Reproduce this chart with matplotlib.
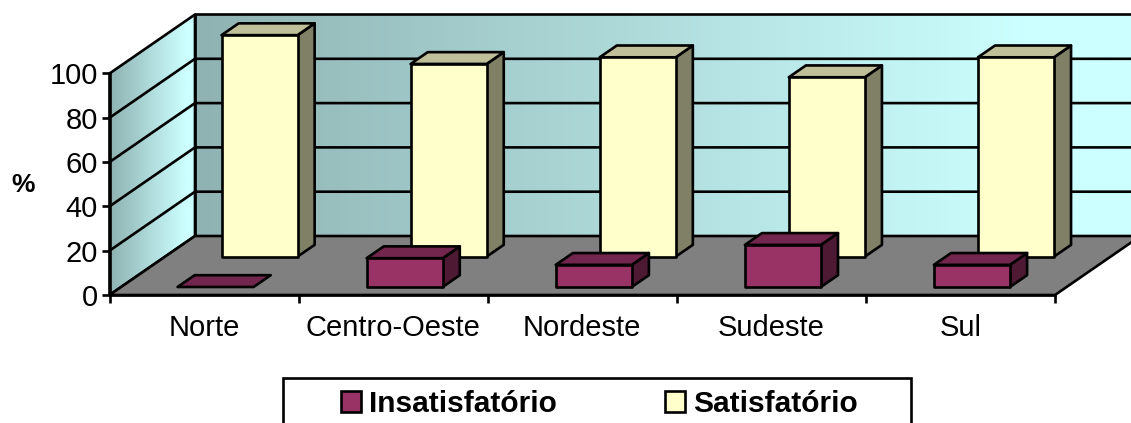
import numpy as np
import matplotlib
matplotlib.use("Agg")
import matplotlib.pyplot as plt
from matplotlib.patches import Polygon, Patch, Rectangle
from matplotlib.colors import LinearSegmentedColormap

plt.rcParams['font.family'] = ['Liberation Sans', 'DejaVu Sans']

categories = ["Norte", "Centro-Oeste", "Nordeste", "Sudeste", "Sul"]
insatisfatorio = [0, 13, 10, 19, 10]
satisfatorio = [100, 87, 90, 81, 90]
y_ticks = [0, 20, 40, 60, 80, 100]

W, H = 1131, 423
fig = plt.figure(figsize=(W / 100, H / 100), dpi=100, facecolor='white')
L, R, B, T = 109.5, 1055, 295, 73.5
ax = fig.add_axes([L / W, 1 - B / H, (R - L) / W, (B - T) / H])
ax.set_xlim(0, 5)
ax.set_ylim(0, 100)
ax.patch.set_visible(False)

DX = 85.5 / ((R - L) / 5)      # depth shift, category units
DY = 59 / ((B - T) / 100)      # depth shift, value units
LW = 1.9
BLACK = 'black'


def pt(x, v, d=0.0):
    return (x + DX * d, v + DY * d)


def face(points, color, z):
    p = Polygon(points, closed=True, facecolor=color, edgecolor=BLACK, lw=LW,
                joinstyle='round', clip_on=False, zorder=z)
    ax.add_patch(p)
    return p


cmap = LinearSegmentedColormap.from_list('wall', ['#8FB2B2', '#CCFFFF'])


def gradient_wall(points, x0, xstop, x1, z):
    p = face(points, 'none', z + 0.2)
    xs = np.linspace(x0, x1, 1024)
    g = np.clip((xs - x0) / (xstop - x0), 0, 1).reshape(1, -1)
    im = ax.imshow(g, cmap=cmap, vmin=0, vmax=1, aspect='auto',
                   extent=(x0, x1, -5, 140),
                   interpolation='bilinear', zorder=z)
    im.set_clip_box(fig.bbox)
    im.set_clip_path(Polygon(points, closed=True, transform=ax.transData))
    return im


vmax = y_ticks[-1]
# side wall
gradient_wall([pt(0, 0), pt(0, vmax), pt(0, vmax, 1), pt(0, 0, 1)],
              0, DX * 0.88, DX, 1)
# back wall: reaches the light cyan well before the right edge
gradient_wall([pt(0, 0, 1), pt(0, vmax, 1), pt(5, vmax, 1), pt(5, 0, 1)],
              DX, 4.85, 5 + DX, 1)
# grid lines
for v in y_ticks[1:-1]:
    xs, ys = zip(pt(0, v), pt(0, v, 1), pt(5, v, 1))
    ax.plot(xs, ys, color=BLACK, lw=LW, clip_on=False, zorder=2)
# floor
face([pt(0, 0), pt(0, 0, 1), pt(5, 0, 1), pt(5, 0)], '#808080', 3)

BAR_X = 0.2985
BAR_W = 0.402
BAR_D = 0.2


def bar3d(i, value, depth, front, top, side, z):
    x0, x1 = i + BAR_X, i + BAR_X + BAR_W
    d0, d1 = depth, depth + BAR_D
    if value > 0:
        face([pt(x1, 0, d0), pt(x1, value, d0), pt(x1, value, d1), pt(x1, 0, d1)], side, z)
    face([pt(x0, value, d0), pt(x0, value, d1), pt(x1, value, d1), pt(x1, value, d0)], top, z)
    if value > 0:
        face([pt(x0, 0, d0), pt(x0, value, d0), pt(x1, value, d0), pt(x1, 0, d0)], front, z)


for i, v in enumerate(satisfatorio):
    bar3d(i, v, 0.65, '#FFFFCC', '#BFBF99', '#808066', 4)
for i, v in enumerate(insatisfatorio):
    bar3d(i, v, 0.136, '#993366', '#73264D', '#4D1933', 5)

# axes
for s in ('top', 'right'):
    ax.spines[s].set_visible(False)
for s in ('left', 'bottom'):
    ax.spines[s].set_linewidth(LW)
    ax.spines[s].set_zorder(6)
ax.set_yticks(y_ticks)
ax.set_xticks(range(6))
ax.set_xticklabels([])
ax.set_xticks(np.arange(5) + 0.5, categories, minor=True)
ax.tick_params(axis='both', which='major', length=5.5, width=LW, labelsize=21, pad=3)
ax.tick_params(axis='x', which='minor', length=0, labelsize=21, pad=14)
ax.set_ylabel('%', rotation=0, fontsize=19, fontweight='bold', va='center', ha='center')
ax.yaxis.set_label_coords((23.5 - L) / (R - L), 0.497)

# legend box runs past the lower image edge in the reference
fig.add_artist(Rectangle((283 / W, -20 / H), (911 - 283) / W, (H - 378 + 20) / H,
                         transform=fig.transFigure, facecolor='white',
                         edgecolor=BLACK, lw=LW, zorder=1))
handles = [Patch(facecolor='#993366', edgecolor=BLACK, lw=LW, label='Insatisfatório'),
           Patch(facecolor='#FFFFCC', edgecolor=BLACK, lw=LW, label='Satisfatório')]
leg = fig.legend(handles=handles, ncol=2, loc='upper left',
                 bbox_to_anchor=(341 / W, 1 - 390 / H), borderaxespad=0,
                 frameon=False, prop={'size': 21.5, 'weight': 'bold'},
                 handlelength=0.67, handleheight=0.67, handletextpad=0.27,
                 columnspacing=3.63, borderpad=0)
leg.set_zorder(2)

fig.savefig('out.png', dpi=100, facecolor='white')
